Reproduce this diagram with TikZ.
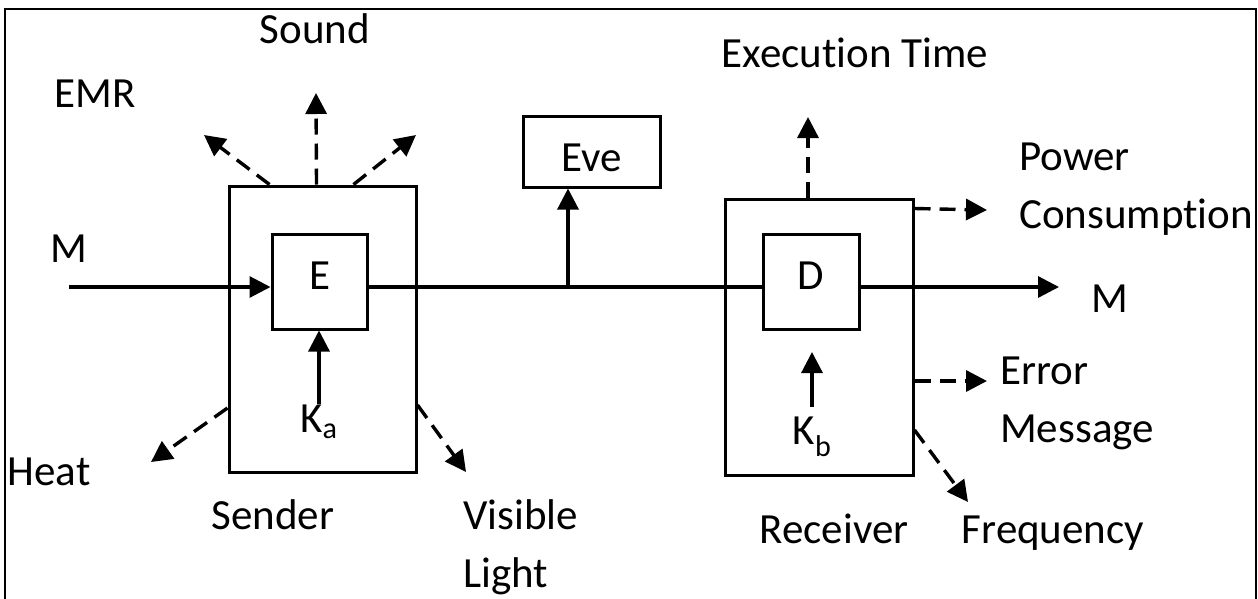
\documentclass[tikz,border=0pt]{standalone}
\usepackage{fontspec}
\setmainfont[Ligatures={NoCommon,NoRequired,NoContextual}]{Carlito}
\usetikzlibrary{arrows.meta,positioning,calc}

\begin{document}
\begin{tikzpicture}[x=1pt,y=-1pt,
  box/.style={draw,line width=3pt,inner sep=0pt},
  lbl/.style={inner sep=0pt,font=\fontsize{43}{58}\selectfont},
  arr/.style={-{Triangle[length=21pt,width=21pt]},line width=3.2pt},
  leak/.style={arr,line width=3.4pt,dash pattern=on 16pt off 9pt}
]
\useasboundingbox (0,0) rectangle (1258,598);
\draw[line width=2.2pt] (5,9) rectangle (1256,620);

% sender side
\node[box,minimum width=187pt,minimum height=286pt] (sender) at (322.5,329) {};
\node[box,lbl,minimum width=95pt,minimum height=95pt,text depth=12pt] (enc) at (319.5,281.5) {E};
\node[lbl,anchor=base] (ka) at (319,432) {K\textsubscript{a}};

% eavesdropper
\node[box,lbl,minimum width=137pt,minimum height=71pt,text height=40pt] (eve) at (591.5,151.5) {Eve};

% receiver side
\node[box,minimum width=188pt,minimum height=276pt] (receiver) at (819,337) {};
\node[box,lbl,minimum width=96pt,minimum height=95pt,text depth=12pt] (dec) at (811,281.5) {D};
\node[lbl,anchor=base] (kb) at (812,444) {K\textsubscript{b}};

% labels
\node[lbl,anchor=base] (min) at (69,262) {M};
\node[lbl,anchor=base] (mout) at (1110,312) {M};
\node[lbl,anchor=base] (sound) at (315,43) {Sound};
\node[lbl,anchor=base] (emr) at (95,107) {EMR};
\node[lbl,anchor=base] (heat) at (49,485) {Heat};
\node[lbl,anchor=base] (sndlbl) at (273,529) {Sender};
\node[lbl,anchor=base west,align=left] (vis) at (463,587) {Visible\\Light};
\node[lbl,anchor=base] (exec) at (855,67) {Execution Time};
\node[lbl,anchor=base west,align=left] (power) at (1019,228) {Power\\Consumption};
\node[lbl,anchor=base west,align=left] (err) at (1000,442) {Error\\Message};
\node[lbl,anchor=base] (rcvlbl) at (834,543) {Receiver};
\node[lbl,anchor=base] (freq) at (1053,543) {Frequency};

% free ends
\coordinate (mstart) at (69,287);
\coordinate (mend) at (1059,287);
\coordinate (tap) at (568,287);
\coordinate (kbrow) at (0,352);
\coordinate (kbtip) at (kb.north |- kbrow);
\coordinate (emrtip) at (204,135);
\coordinate (soundtip) at (316,93);
\coordinate (rtip) at (416,135);
\coordinate (heattip) at (151,462);
\coordinate (vistip) at (466,472);
\coordinate (exectip) at (808,117);
\coordinate (powtip) at (987,210);
\coordinate (errtip) at (987,381);
\coordinate (freqtip) at (968,502);

% message path
\draw[arr] (mstart) -- (mstart -| enc.west);
\draw[line width=3.2pt] (enc.east |- mstart) -- (dec.west |- mstart);
\draw[arr] (dec.east |- mstart) -- (mend);
\draw[arr] (tap) -- (tap |- eve.south);
\draw[arr] (ka.north) -- (ka.north |- enc.south);
\draw[arr] ([yshift=9pt]kb.north) -- (kbtip);

% side channels
\draw[leak] ($(sender.north)+(-53,0)$) -- (emrtip);
\draw[leak] ($(sender.north)+(-6,0)$) -- (soundtip);
\draw[leak] ($(sender.north)+(31,0)$) -- (rtip);
\draw[leak] ($(sender.west)+(0,79)$) -- (heattip);
\draw[leak] ($(sender.east)+(0,76)$) -- (vistip);
\draw[leak] ($(receiver.north)+(-11,0)$) -- (exectip);
\draw[leak] ($(receiver.north east)+(0,11)$) -- (powtip);
\draw[leak] ($(receiver.east)+(0,44)$) -- (errtip);
\draw[leak] ($(receiver.east)+(0,93)$) -- (freqtip);
\end{tikzpicture}
\end{document}
